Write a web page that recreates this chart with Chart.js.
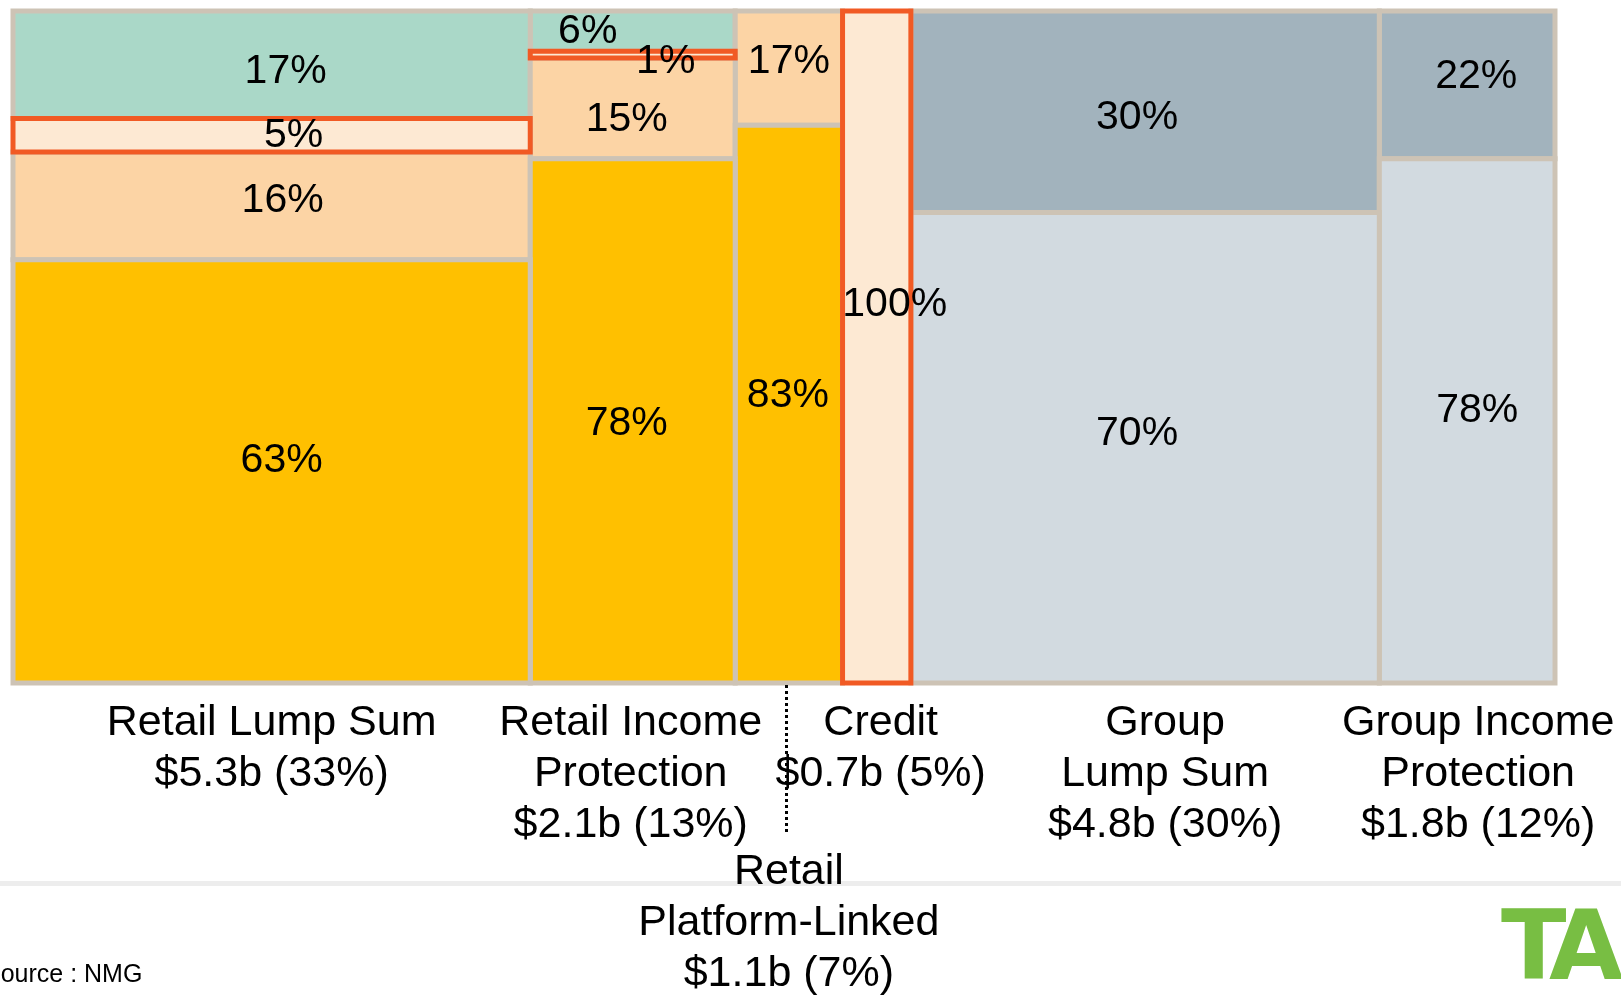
<!DOCTYPE html>
<html>
<head>
<meta charset="utf-8">
<title>Risk premium market by segment</title>
<script src="https://cdn.jsdelivr.net/npm/chart.js@4.4.1/dist/chart.umd.min.js"></script>
<style>
  html, body { margin: 0; padding: 0; background: #fff; overflow: hidden; }
  #stage { position: relative; width: 1621px; height: 995px; font-family: "Liberation Sans", Arial, sans-serif; }
  #rule { position: absolute; left: 0; top: 881px; width: 1621px; height: 5px; background: #ededed; }
  #mekko { position: absolute; left: 0; top: 0; }
  #source { position: absolute; left: -16px; top: 961px; font-size: 25px; line-height: 25px; color: #000; white-space: nowrap; }
  #logo { position: absolute; left: 1501px; top: 898px; font-family: "DejaVu Sans", sans-serif; font-size: 96px; line-height: 96px; font-weight: bold; color: #78be43; letter-spacing: -10px; white-space: nowrap; }
</style>
</head>
<body>
<div id="stage">
  <div id="rule"></div>
  <canvas id="mekko" width="1621" height="995"></canvas>
  <div id="source">Source : NMG</div>
  <div id="logo">TA</div>
</div>
<script>
// product lines, market size in $b and share of the total
var categories = ['Retail Lump Sum', 'Retail Income Protection', 'Retail Platform-Linked', 'Credit', 'Group Lump Sum', 'Group Income Protection'];
var categoryLines = [
    ['Retail Lump Sum'],
    ['Retail Income', 'Protection'],
    ['Retail', 'Platform-Linked'],
    ['Credit'],
    ['Group', 'Lump Sum'],
    ['Group Income', 'Protection']
];
var premiumBn = [5.3, 2.1, 1.1, 0.7, 4.8, 1.8];
var premiumShare = [33, 13, 7, 5, 30, 12];

// split of each column in %, stacked from the bottom up
var yellowPct = [63, 78, 83, 0, 0, 0];
var peachPct = [16, 15, 17, 0, 0, 0];
var highlightPct = [5, 1, 0, 100, 0, 0];
var tealPct = [17, 6, 0, 0, 0, 0];
var slateLightPct = [0, 0, 0, 0, 70, 78];
var slateDarkPct = [0, 0, 0, 0, 30, 22];

var series = [
    { name: 'yellow', values: yellowPct, color: '#ffc000' },
    { name: 'peach', values: peachPct, color: '#fcd4a5' },
    { name: 'highlight', values: highlightPct, color: '#fde9d3', outline: '#f15a24' },
    { name: 'teal', values: tealPct, color: '#aad8c8' },
    { name: 'slate light', values: slateLightPct, color: '#d2dae0' },
    { name: 'slate dark', values: slateDarkPct, color: '#a2b3bd' }
];

// small label shifts (px) so the text sits where it does in the original
var labelNudge = [
    [[10, -11], [-6, 3], [-1, -8], null, null, null],
    [[11, -5], [-6, 11], [0, -6], null, null, null],
    [[22, 0], [33, 7], null, [18, -42], null, null],
    [[14, 7], [-45, 1], null, null, null, null],
    [null, null, null, null, [-8, -14], [10, -10]],
    [null, null, null, null, [-8, 6], [9, -8]]
];
var categoryNudge = [0, -2, 0, 4, 20, 11];
var categoryDrop = [52, 52, 201, 52, 52, 52];

var colStart = [];
var total = 0;
premiumBn.forEach(function (v) { colStart.push(total); total += v; });

var segments = [];
var datasets = [];
var base = premiumBn.map(function () { return 0; });

series.forEach(function (s, si) {
    s.values.forEach(function (v, ci) {
        if (!v) return;
        var x0 = colStart[ci], x1 = x0 + premiumBn[ci];
        // rounded shares can add up to 101, keep the column inside 100%
        var y0 = base[ci], y1 = Math.min(100, y0 + v);
        base[ci] = y1;
        segments.push({ series: si, col: ci, pct: v, x0: x0, x1: x1, y0: y0, y1: y1 });
        datasets.push({
            label: categories[ci] + ' - ' + s.name,
            data: [{ x: x0, y: y0 }, { x: x1, y: y0 }, { x: x1, y: y1 }, { x: x0, y: y1 }, { x: x0, y: y0 }],
            backgroundColor: s.color,
            borderColor: s.outline || '#cdc3b5',
            borderWidth: 5,
            borderJoinStyle: 'miter',
            borderCapStyle: 'square',
            fill: 'shape',
            pointRadius: 0,
            tension: 0,
            clip: false,
            order: s.outline ? 0 : 1
        });
    });
});

var labelPlugin = {
    id: 'mekkoLabels',
    afterDatasetsDraw: function (chart) {
        var ctx = chart.ctx;
        var xs = chart.scales.x, ys = chart.scales.y;
        ctx.save();
        ctx.fillStyle = '#000';
        ctx.textAlign = 'center';

        // percentages inside the blocks
        ctx.font = '41px "Liberation Sans", Arial, sans-serif';
        ctx.textBaseline = 'middle';
        segments.forEach(function (s) {
            var n = labelNudge[s.series][s.col] || [0, 0];
            ctx.fillText(s.pct + '%',
                xs.getPixelForValue((s.x0 + s.x1) / 2) + n[0],
                ys.getPixelForValue((s.y0 + s.y1) / 2) + n[1]);
        });

        // column captions
        ctx.font = '43px "Liberation Sans", Arial, sans-serif';
        ctx.textBaseline = 'alphabetic';
        var bottom = ys.getPixelForValue(0);
        categoryLines.forEach(function (lines, i) {
            var cx = xs.getPixelForValue(colStart[i] + premiumBn[i] / 2) + categoryNudge[i];
            var all = lines.concat(['$' + premiumBn[i].toFixed(1) + 'b (' + premiumShare[i] + '%)']);
            all.forEach(function (t, k) {
                ctx.fillText(t, cx, bottom + categoryDrop[i] + k * 51);
            });
        });

        // dotted leader down to the Retail Platform-Linked caption
        var lx = Math.round(xs.getPixelForValue(colStart[2] + premiumBn[2] / 2)) - 2.5;
        ctx.strokeStyle = '#000';
        ctx.lineWidth = 3;
        ctx.setLineDash([3, 3]);
        ctx.beginPath();
        ctx.moveTo(lx, bottom + 2);
        ctx.lineTo(lx, bottom + 149);
        ctx.stroke();
        ctx.restore();
    }
};

new Chart(document.getElementById('mekko'), {
    type: 'line',
    data: { datasets: datasets },
    options: {
        responsive: false,
        animation: false,
        events: [],
        layout: { padding: { left: 13, right: 66, top: 11, bottom: 312 } },
        scales: {
            x: { type: 'linear', min: 0, max: total, display: false },
            y: { type: 'linear', min: 0, max: 100, display: false }
        },
        plugins: {
            legend: { display: false },
            tooltip: { enabled: false }
        }
    },
    plugins: [labelPlugin]
});
</script>
</body>
</html>
